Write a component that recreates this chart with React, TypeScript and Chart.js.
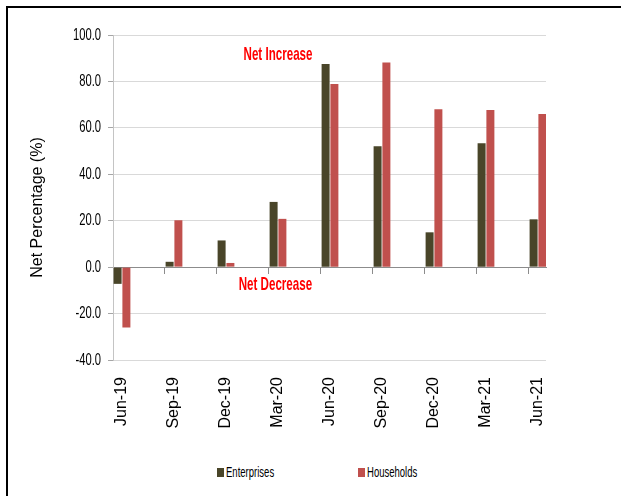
import React, { useEffect, useRef } from "react";
import { Chart, registerables } from "chart.js";

Chart.register(...registerables);

// Survey quarters and net percentages
const categories = ["Jun-19", "Sep-19", "Dec-19", "Mar-20", "Jun-20", "Sep-20", "Dec-20", "Mar-21", "Jun-21"];
const enterprises = [-7.2, 2.3, 11.5, 28.1, 87.5, 52.1, 15.0, 53.4, 20.6];
const households = [-26.0, 20.2, 1.8, 20.8, 78.9, 88.2, 68.0, 67.7, 66.0];
const seriesNames = ["Enterprises", "Households"];
const seriesColors = ["#494529", "#c0504d"];
const yTicks = [-40, -20, 0, 20, 40, 60, 80, 100];
const yTitle = "Net Percentage (%)";
const notes = [
  { text: "Net Increase", x: 3, y: 91.4 },
  { text: "Net Decrease", x: 2.95, y: -7.4 },
];

const sans = "'Liberation Sans', Arial, sans-serif";

// Category tick marks sit at the left edge of each bar pair.
const SHIFT = 9 / 52;
const X_MIN = -SHIFT;
const X_MAX = 8.154;

// Condensed text: Arial-metric glyphs squeezed horizontally.
function narrowText(
  ctx: CanvasRenderingContext2D,
  text: string,
  x: number,
  y: number,
  font: string,
  squeeze: number,
  align: CanvasTextAlign,
  color: string
) {
  ctx.save();
  ctx.translate(x, y);
  ctx.scale(squeeze, 1);
  ctx.font = font;
  ctx.fillStyle = color;
  ctx.textAlign = align;
  ctx.textBaseline = "middle";
  ctx.fillText(text, 0, 0);
  ctx.restore();
}

const axisTextPlugin = {
  id: "axisText",
  afterDraw(chart: any) {
    const { ctx, scales, chartArea } = chart;
    // value labels of the y axis
    const labelRight = chartArea.left - 5 - 7;
    yTicks.forEach((v) => {
      narrowText(ctx, v.toFixed(1), labelRight, scales.y.getPixelForValue(v), `16.5px ${sans}`, 0.68, "right", "#000");
    });
    // y axis title, reading upwards
    ctx.save();
    ctx.translate(chartArea.left - 75, (chartArea.top + chartArea.bottom) / 2 + 10);
    ctx.rotate(-Math.PI / 2);
    ctx.font = `16px ${sans}`;
    ctx.fillStyle = "#000";
    ctx.textAlign = "center";
    ctx.textBaseline = "middle";
    ctx.fillText(yTitle, 0, 0);
    ctx.restore();
    // direction notes
    notes.forEach((n) => {
      narrowText(
        ctx,
        n.text,
        scales.x.getPixelForValue(n.x),
        scales.y.getPixelForValue(n.y),
        `bold 19px ${sans}`,
        0.61,
        "center",
        "#ff0000"
      );
    });
  },
};

export default function App() {
  const canvasRef = useRef<HTMLCanvasElement | null>(null);

  useEffect(() => {
    if (!canvasRef.current) return;
    const series = [enterprises, households];
    const chart = new Chart(canvasRef.current, {
      type: "bar",
      data: {
        datasets: series.map((vals, s) => ({
          label: seriesNames[s],
          data: vals.map((v, i) => ({ x: i, y: v })),
          backgroundColor: seriesColors[s],
          borderWidth: 0,
          categoryPercentage: 0.338,
          barPercentage: 0.91,
          xAxisID: "x",
          yAxisID: "y",
        })),
      },
      options: {
        animation: false,
        responsive: false,
        layout: { padding: { top: 27, right: 75, left: 0, bottom: 0 } },
        plugins: { legend: { display: false }, tooltip: { enabled: false } },
        scales: {
          x: {
            type: "linear",
            position: "bottom",
            offset: false,
            min: X_MIN,
            max: X_MAX,
            afterBuildTicks: (s: any) => {
              s.ticks = categories.map((_, i) => ({ value: i }));
            },
            afterFit: (s: any) => {
              s.height = 90;
            },
            grid: { display: false, offset: false },
            border: { display: false },
            ticks: {
              autoSkip: false,
              maxRotation: 90,
              minRotation: 90,
              padding: 9,
              color: "#000",
              font: { family: sans, size: 16 },
              callback: (_v: any, i: number) => categories[i],
            },
          },
          xz: {
            type: "linear",
            position: { y: 0 },
            offset: false,
            min: X_MIN,
            max: X_MAX,
            afterBuildTicks: (s: any) => {
              s.ticks = categories.map((_, i) => ({ value: i - SHIFT }));
            },
            grid: { drawOnChartArea: false, drawTicks: true, tickLength: 6, color: "#8c8c8c", offset: false },
            border: { color: "#8c8c8c", width: 1 },
            ticks: { display: false },
          },
          y: {
            type: "linear",
            min: -40,
            max: 100,
            afterBuildTicks: (s: any) => {
              s.ticks = yTicks.map((v) => ({ value: v }));
            },
            afterFit: (s: any) => {
              s.width = 105;
            },
            grid: { color: "#d9d9d9", tickLength: 5, tickColor: "#a6a6a6" },
            border: { color: "#c4c4c4" },
            ticks: { display: false },
            title: { display: false },
          },
        },
      } as any,
      plugins: [axisTextPlugin],
    });
    return () => chart.destroy();
  }, []);

  const legendLeft = [217, 358];

  return (
    <div
      style={{
        position: "absolute",
        left: 0,
        top: 0,
        width: 621,
        height: 496,
        background: "#fff",
        overflow: "hidden",
      }}
    >
      <div
        style={{
          position: "absolute",
          left: 6,
          top: 6,
          right: 0,
          bottom: 0,
          borderLeft: "2px solid #000",
          borderTop: "2px solid #000",
        }}
      />
      <canvas
        ref={canvasRef}
        width={613}
        height={442}
        style={{ position: "absolute", left: 8, top: 8, width: 613, height: 442 }}
      />
      {seriesNames.map((name, s) => (
        <div
          key={name}
          style={{
            position: "absolute",
            left: legendLeft[s],
            top: 464,
            display: "flex",
            alignItems: "center",
            fontFamily: sans,
            fontSize: 14,
            color: "#000",
            lineHeight: "16px",
            whiteSpace: "nowrap",
          }}
        >
          <span
            style={{
              display: "inline-block",
              width: 7,
              height: 9,
              background: seriesColors[s],
              marginRight: 2,
            }}
          />
          <span style={{ display: "inline-block", transform: "scaleX(0.68)", transformOrigin: "left center" }}>
            {name}
          </span>
        </div>
      ))}
    </div>
  );
}
